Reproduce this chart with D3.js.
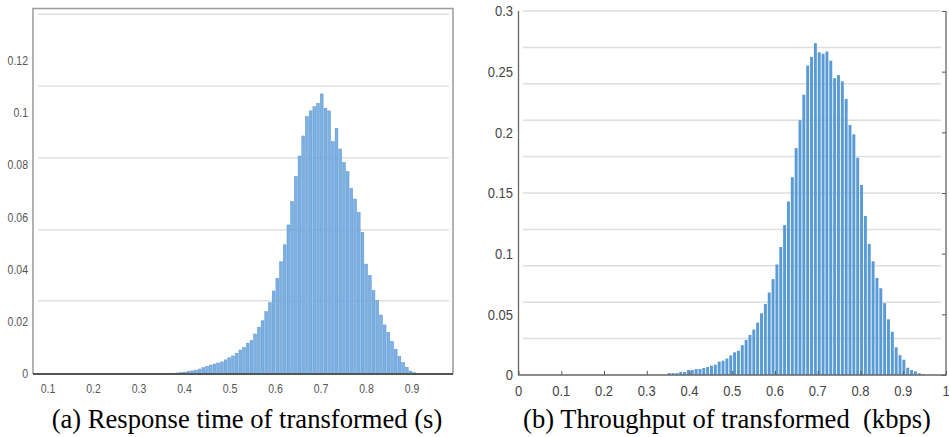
<!DOCTYPE html>
<html>
<head>
<meta charset="utf-8">
<script src="https://cdnjs.cloudflare.com/ajax/libs/d3/7.8.5/d3.min.js"></script>
<style>
  html, body { margin: 0; padding: 0; background: #fff; }
  svg { display: block; }
</style>
</head>
<body>
<svg id="chart" width="949" height="437"></svg>
<script>
// ---- data ----
// (a) response time histogram
var leftBinStart = 0.3562;
var leftBinWidth = 0.00813;
var leftValues = [
    0.0002, 0.0003, 0.0003, 0.0004, 0.0005, 0.0007, 0.0010, 0.0012, 0.0015, 0.0019,
    0.0024, 0.0029, 0.0034, 0.0038, 0.0042, 0.0046, 0.0054, 0.0062, 0.0069, 0.0079,
    0.0092, 0.0101, 0.0118, 0.0128, 0.0153, 0.0179, 0.0204, 0.0239, 0.0273, 0.0318,
    0.0367, 0.0430, 0.0495, 0.0571, 0.0660, 0.0756, 0.0835, 0.0912, 0.0986, 0.1008,
    0.1024, 0.1037, 0.1073, 0.1018, 0.1008, 0.0890, 0.0941, 0.0862, 0.0810, 0.0775,
    0.0711, 0.0670, 0.0619, 0.0543, 0.0421, 0.0377, 0.0319, 0.0281, 0.0226, 0.0188,
    0.0160, 0.0124, 0.0095, 0.0067, 0.0044, 0.0026, 0.0011, 0.0005, 0.0002
];
var leftXTicks = [0.1, 0.2, 0.3, 0.4, 0.5, 0.6, 0.7, 0.8, 0.9];
var leftYTicks = [0, 0.02, 0.04, 0.06, 0.08, 0.1, 0.12];
var leftGrid = [0.028, 0.0552, 0.0828, 0.1103, 0.1379];

// (b) throughput histogram
var rightBinStart = 0.349;
var rightBinWidth = 0.009;
var rightValues = [
    0.0016, 0.0016, 0.0016, 0.0025, 0.0025, 0.0041, 0.0041, 0.0049, 0.0049, 0.0058,
    0.0066, 0.0077, 0.0085, 0.0110, 0.0118, 0.0135, 0.0162, 0.0187, 0.0200, 0.0246,
    0.0289, 0.0330, 0.0375, 0.0432, 0.0509, 0.0586, 0.0680, 0.0790, 0.0911, 0.1055,
    0.1236, 0.1430, 0.1630, 0.1870, 0.2100, 0.2310, 0.2550, 0.2622, 0.2735, 0.2660,
    0.2648, 0.2666, 0.2590, 0.2446, 0.2472, 0.2420, 0.2275, 0.2061, 0.1984, 0.1791,
    0.1566, 0.1311, 0.1080, 0.0937, 0.0800, 0.0715, 0.0592, 0.0459, 0.0356, 0.0228,
    0.0164, 0.0126, 0.0060, 0.0041, 0.0030, 0.0014, 0.0005
];
var rightXTicks = [0, 0.1, 0.2, 0.3, 0.4, 0.5, 0.6, 0.7, 0.8, 0.9, 1];
var rightYTicks = [0, 0.05, 0.1, 0.15, 0.2, 0.25, 0.3];
var rightGrid = [0.03, 0.06, 0.09, 0.12, 0.15, 0.18, 0.21, 0.24, 0.27, 0.3];

var captions = ['(a) Response time of transformed (s)', '(b) Throughput of transformed  (kbps)'];

// turn a start/width/values triple into bins
function makeBins(start, width, values) {
    return values.map(function(v, i) {
        return {x0: start + i * width, x1: start + (i + 1) * width, value: v};
    });
}

function fmt(v) {
    return String(+v.toFixed(2));
}

// tick labels, slightly stretched vertically like the source bitmap
function drawLabels(g, values, xf, yf, anchor, size, k, color) {
    g.selectAll(null)
        .data(values)
        .enter()
        .append('text')
        .attr('transform', function(d) { return 'translate(' + [xf(d), yf(d)] + ') scale(1,' + k + ')'; })
        .attr('dy', '0.35em')
        .attr('text-anchor', anchor)
        .style('font-family', '"Liberation Sans", Arial, sans-serif')
        .style('font-size', size + 'px')
        .style('fill', color)
        .text(fmt);
}

var svg = d3.select('#chart');

// ================= left chart (a) =================
var xL = d3.scaleLinear().domain([0.067, 0.99]).range([33, 453]);
var yL = d3.scaleLinear().domain([0, 0.14]).range([374, 8.6]);
var gL = svg.append('g');

gL.selectAll('.grid')
    .data(leftGrid)
    .enter()
    .append('line')
    .attr('x1', 38).attr('x2', 449)
    .attr('y1', yL).attr('y2', yL)
    .style('stroke', '#d9d9d9')
    .style('stroke-width', 1.2);

gL.selectAll('.bar')
    .data(makeBins(leftBinStart, leftBinWidth, leftValues))
    .enter()
    .append('rect')
    .attr('x', function(d) { return xL(d.x0) + 0.35; })
    .attr('width', function(d) { return xL(d.x1) - xL(d.x0) - 0.9; })
    .attr('y', function(d) { return yL(d.value); })
    .attr('height', function(d) { return yL(0) - yL(d.value); })
    .style('fill', '#7db1e3')
    .style('stroke', '#5590cc')
    .style('stroke-width', 0.5);

// frame
gL.append('path')
    .attr('d', 'M' + xL.range()[0] + ',' + yL(0) + 'V' + yL.range()[1] + 'H' + xL.range()[1] + 'V' + yL(0))
    .style('fill', 'none')
    .style('stroke', '#9a9a9a')
    .style('stroke-width', 1.5);
gL.append('line')
    .attr('x1', xL.range()[0]).attr('x2', xL.range()[1])
    .attr('y1', yL(0)).attr('y2', yL(0))
    .style('stroke', '#555')
    .style('stroke-width', 2);

drawLabels(gL, leftYTicks, function() { return 28; }, yL, 'end', 10.5, 1.15, '#555');
drawLabels(gL, leftXTicks, xL, function() { return 389; }, 'middle', 10.5, 1.15, '#555');

// ================= right chart (b) =================
var xR = d3.scaleLinear().domain([0, 1]).range([518.5, 946]);
var yR = d3.scaleLinear().domain([0, 0.3]).range([375, 11]);
var gR = svg.append('g');

gR.selectAll('.grid')
    .data(rightGrid)
    .enter()
    .append('line')
    .attr('x1', 523).attr('x2', 941)
    .attr('y1', yR).attr('y2', yR)
    .style('stroke', '#dedede')
    .style('stroke-width', 1.5);

gR.selectAll('.bar')
    .data(makeBins(rightBinStart, rightBinWidth, rightValues))
    .enter()
    .append('rect')
    .attr('x', function(d) { return xR(d.x0); })
    .attr('width', function(d) { return xR(d.x1) - xR(d.x0) - 0.9; })
    .attr('y', function(d) { return yR(d.value); })
    .attr('height', function(d) { return yR(0) - yR(d.value); })
    .style('fill', '#5b9bd5');

// inward tick marks
gR.append('g')
    .attr('transform', 'translate(0,' + yR(0) + ')')
    .call(d3.axisBottom(xR).tickValues(rightXTicks).tickSize(-4).tickFormat(''))
    .call(function(g) { g.select('.domain').remove(); })
    .selectAll('line').style('stroke', '#555');
gR.append('g')
    .attr('transform', 'translate(' + xR(1) + ',0)')
    .call(d3.axisLeft(yR).tickValues(rightYTicks).tickSize(4).tickFormat(''))
    .call(function(g) { g.select('.domain').remove(); })
    .selectAll('line').style('stroke', '#555');

gR.append('path')
    .attr('d', 'M' + xR(0) + ',' + yR(0.3) + 'V' + yR(0) + 'H' + xR(1) + 'V' + yR(0.3))
    .style('fill', 'none')
    .style('stroke', '#666')
    .style('stroke-width', 1.3);

drawLabels(gR, rightYTicks, function() { return 513; }, yR, 'end', 13, 1.15, '#444');
drawLabels(gR, rightXTicks, xR, function() { return 391; }, 'middle', 13, 1.15, '#444');

// ================= captions =================
svg.selectAll('.caption')
    .data(captions)
    .enter()
    .append('text')
    .attr('class', 'caption')
    .attr('x', function(d, i) { return i === 0 ? 247 : 727; })
    .attr('y', 428)
    .attr('text-anchor', 'middle')
    .attr('xml:space', 'preserve')
    .style('white-space', 'pre')
    .style('font-family', '"Liberation Serif", "Times New Roman", serif')
    .style('font-size', '26.6px')
    .style('fill', '#000')
    .text(function(d) { return d; });
</script>
</body>
</html>
